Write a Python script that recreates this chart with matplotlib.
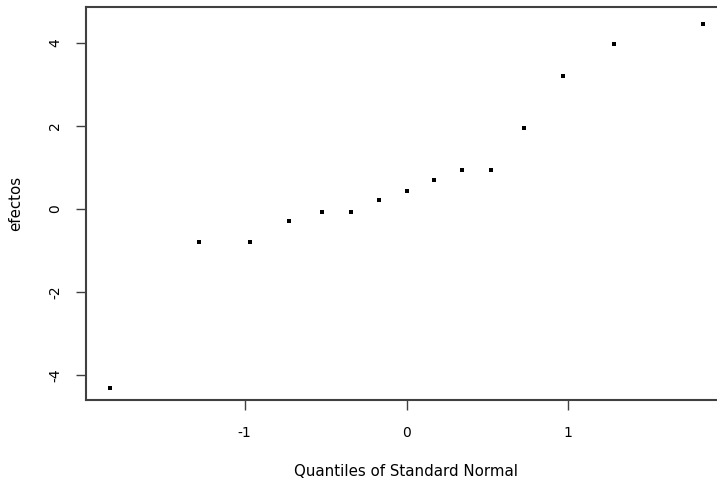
import matplotlib
matplotlib.use("Agg")
import matplotlib.pyplot as plt

plt.rcParams['font.family'] = ['DejaVu Sans']

quantiles = [-1.834, -1.282, -0.967, -0.728, -0.524, -0.341, -0.168, 0.0,
             0.168, 0.341, 0.524, 0.728, 0.967, 1.282, 1.834]
efectos = [-4.30, -0.79, -0.79, -0.29, -0.06, -0.06, 0.22, 0.44,
           0.71, 0.945, 0.945, 1.95, 3.19, 3.96, 4.45]
xticks = [-1, 0, 1]
yticks = [-4, -2, 0, 2, 4]

W, H = 717, 483
fig = plt.figure(figsize=(W / 100, H / 100), dpi=100)
left, right, top, bottom = 86, 727, 7, 400
ax = fig.add_axes([left / W, 1 - bottom / H, (right - left) / W, (bottom - top) / H])

ax.scatter(quantiles, efectos, marker='s', s=6, color='black', linewidths=0)

ax.set_xlim(-1.98, 1.98)
ax.set_ylim(-4.59, 4.86)
ax.set_xticks(xticks)
ax.set_xticklabels([str(t) for t in xticks])
ax.set_yticks(yticks)
ax.set_yticklabels([str(t) for t in yticks], rotation=90, va='center')

for s in ['left', 'bottom', 'top']:
    ax.spines[s].set_color('#404040')
    ax.spines[s].set_linewidth(1.5)
ax.spines['right'].set_visible(False)

ax.tick_params(direction='out', length=7, width=1, color='#404040',
               labelsize=10, pad=12)
ax.tick_params(axis='y', pad=10)

ax.set_xlabel('Quantiles of Standard Normal', fontsize=10.8, labelpad=17)
ax.set_ylabel('efectos', fontsize=10.8, labelpad=18)

fig.savefig('out.png', dpi=100)
